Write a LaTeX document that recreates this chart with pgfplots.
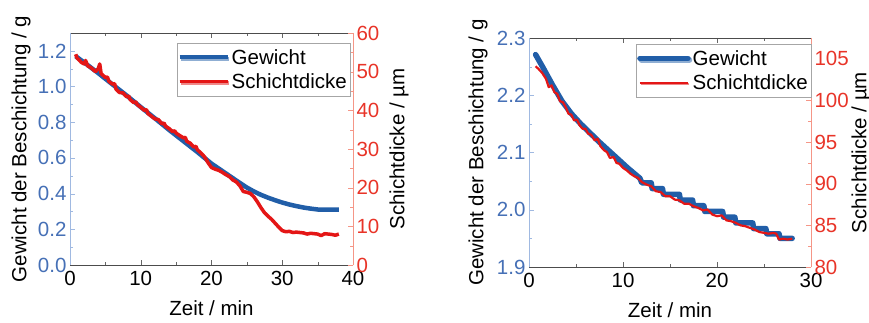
\documentclass[border=0pt]{standalone}
\usepackage{pgfplots}
\pgfplotsset{compat=1.18}
\usepackage{fontspec}
\setmainfont{Liberation Sans}
\usetikzlibrary{shadows}
\definecolor{wblue}{RGB}{33,94,168}
\definecolor{wbluetxt}{RGB}{70,112,182}
\definecolor{wblueax}{RGB}{160,185,225}
\definecolor{dred}{RGB}{228,22,22}
\definecolor{dredtxt}{RGB}{232,52,40}
\definecolor{dredax}{RGB}{245,150,135}
\pgfplotsset{
  base/.style={
    scale only axis, anchor=south west,
    font=\fontsize{20.5bp}{24bp}\selectfont,
    tick label style={font=\fontsize{20.5bp}{24bp}\selectfont},
    label style={font=\fontsize{20.5bp}{24bp}\selectfont},
    /pgf/number format/assume math mode=true,
    major tick length=5bp, minor tick length=3bp,
    minor x tick num=1, minor y tick num=1,
    tick align=inside,
    xticklabel style={anchor=base, yshift=-20bp},
    clip=false,
  },
  lgd/.style={
    legend style={at={(1,1)}, anchor=north east, draw=gray!70, fill=white,
      font=\fontsize{20.5bp}{24bp}\selectfont, inner xsep=1bp, inner ysep=4bp, row sep=4bp,
      nodes={inner sep=2bp},
      drop shadow={shadow xshift=1.5bp, shadow yshift=-1.5bp, fill=gray!50}},
    legend cell align=left,
    legend image code/.code={\draw[##1] (0bp,0bp) -- (48bp,0bp);},
  },
}
\begin{document}
\begin{tikzpicture}
\path[use as bounding box] (0bp,0bp) rectangle (869bp,323bp);
% ---------- left panel ----------
\begin{axis}[base, at={(70bp,58bp)}, width=283bp, height=232bp,
  xmin=0, xmax=40, ymin=0, ymax=1.3,
  xtick={0,10,20,30,40}, ytick={0,0.2,0.4,0.6,0.8,1.0,1.2},
  axis x line*=box, axis y line*=left,
  x axis line style={-, draw=black!70}, y axis line style={-, draw=wblueax},
  xtick style={draw=black!60}, ytick style={draw=wblueax},
  xticklabel pos=lower,
  yticklabel style={text=wbluetxt, /pgf/number format/.cd, fixed, fixed zerofill, precision=1},
  xlabel={Zeit / min}, ylabel={Gewicht der Beschichtung / g},
  xlabel style={at={([yshift=-50bp]axis description cs:0.5,0)}, anchor=base},
  ylabel style={at={([xshift=-49bp]axis description cs:0,0.5)}, anchor=center},
]
\addplot[wblue, line width=4.5bp] coordinates {
(0.8,1.170) (2,1.135) (4,1.075) (6,1.012) (8,0.950) (10,0.885) (12,0.822) (14,0.757) (16,0.695) (18,0.633) (20,0.568) (21,0.541) (22,0.514) (23,0.487) (24,0.460) (25,0.434) (26,0.412) (27,0.393) (28,0.377) (29,0.363) (30,0.350) (31,0.339) (32,0.330) (33,0.322) (34,0.316) (35,0.311) (36,0.310) (37,0.310) (38,0.310)};
\end{axis}
\begin{axis}[base, lgd, at={(70bp,58bp)}, width=283bp, height=232bp,
  xmin=0, xmax=40, ymin=0, ymax=60,
  ytick={0,10,20,30,40,50,60},
  axis x line=none, axis y line*=right,
  y axis line style={-, draw=dredax}, ytick style={draw=dredax},
  yticklabel style={text=dredtxt},
  ylabel={Schichtdicke / µm},
  ylabel style={at={([xshift=46bp]axis description cs:1,0.5)}, anchor=center},
  legend style={xshift=-3bp, yshift=-10bp},
]
\addlegendimage{wblue, line width=4bp}
\addlegendentry{Gewicht}
\addplot[dred, line width=3.5bp, line join=round] coordinates {
(0.8,54.5) (1.0,53.5) (1.3,53.0) (1.6,52.4) (2.0,52.0) (2.2,52.9) (2.5,51.5) (3.0,51.0) (3.3,50.5) (3.6,50.0) (4.0,50.8) (4.2,52.0) (4.4,49.5) (5.0,48.5) (5.3,48.6) (5.5,47.5) (6.0,46.8) (6.3,46.9) (6.5,45.5) (7.0,44.6) (7.5,44.5) (8.0,43.5) (8.3,43.7) (8.5,42.8) (9.0,42.0) (9.3,42.2) (9.5,41.5) (10.0,40.8) (10.5,40.0) (10.8,40.2) (11,39.2) (11.5,38.5) (12,37.8) (12.5,37.6) (13,36.5) (13.3,36.7) (13.5,35.9) (14,35.3) (14.5,34.5) (14.8,34.7) (15,34.1) (15.5,33.5) (16,32.9) (16.3,33.0) (16.5,32.0) (17,31.5) (17.5,30.5) (17.8,30.7) (18,29.8) (18.5,29.0) (19,28.0) (19.5,26.5) (20,25.2) (20.5,24.8) (21,24.5) (21.5,24.0) (22,23.4) (22.5,22.9) (23,22.0) (23.5,21.5) (24,20.5) (24.5,19.0) (25,18.8) (25.5,18.5) (26,17.6) (26.5,16.3) (27,14.8) (27.5,13.5) (28,12.6) (28.5,11.8) (29,10.8) (29.5,9.8) (30,8.9) (30.5,8.6) (31,8.7) (31.5,8.4) (32,8.5) (33,8.3) (33.5,8.0) (34,8.2) (35,8.0) (35.5,7.6) (36,8.1) (37,7.9) (37.5,7.7) (38,8.0)};
\addlegendentry{Schichtdicke}
\end{axis}
% ---------- right panel ----------
\begin{axis}[base, at={(529bp,56bp)}, width=282bp, height=229bp,
  xmin=0, xmax=30, ymin=1.9, ymax=2.3,
  xtick={0,10,20,30}, ytick={1.9,2.0,2.1,2.2,2.3},
  axis x line*=box, axis y line*=left,
  x axis line style={-, draw=black!70}, y axis line style={-, draw=wblueax},
  xtick style={draw=black!60}, ytick style={draw=wblueax},
  xticklabel pos=lower,
  yticklabel style={text=wbluetxt, /pgf/number format/.cd, fixed, fixed zerofill, precision=1},
  xlabel={Zeit / min}, ylabel={Gewicht der Beschichtung / g},
  xlabel style={at={([yshift=-50bp]axis description cs:0.5,0)}, anchor=base},
  ylabel style={at={([xshift=-51bp]axis description cs:0,0.5)}, anchor=center},
]
\addplot[wblue, line width=5.5bp, line cap=round, line join=round] coordinates {
(0.7,2.271) (1.5,2.248) (2.5,2.218) (3.5,2.190) (4.5,2.168) (5.5,2.150) (6.5,2.134) (7.5,2.118) (8.5,2.103) (9.5,2.088) (10.5,2.073) (11.8,2.055)
(12.0,2.047) (13.0,2.047) (13.1,2.037) (14.2,2.037) (14.3,2.027) (16.0,2.027) (16.1,2.017) (17.4,2.017) (17.5,2.007) (18.6,2.007) (18.7,1.997) (20.6,1.997) (20.7,1.987) (21.9,1.987) (22.0,1.977) (23.8,1.977) (23.9,1.967) (25.2,1.967) (25.3,1.958) (26.6,1.958) (26.7,1.950) (28.0,1.950)};
\end{axis}
\begin{axis}[base, lgd, at={(529bp,56bp)}, width=282bp, height=229bp,
  xmin=0, xmax=30, ymin=80, ymax=107.5,
  ytick={80,85,90,95,100,105},
  axis x line=none, axis y line*=right,
  y axis line style={-, draw=dredax}, ytick style={draw=dredax},
  yticklabel style={text=dredtxt},
  ylabel={Schichtdicke / µm},
  ylabel style={at={([xshift=50bp]axis description cs:1,0.5)}, anchor=center},
  legend style={xshift=0bp, yshift=-6bp},
]
\addlegendimage{wblue, line width=5.5bp, line cap=round}
\addlegendentry{Gewicht}
\addplot[dred, line width=2.2bp, line join=round] coordinates {
(0.7,104.1) (1.0,103.8) (1.4,103.3) (1.8,102.6) (2.1,101.6) (2.4,101.8) (2.7,101.0) (3.0,100.8) (3.3,99.9) (3.6,99.8) (3.9,99.2) (4.2,98.4) (4.5,98.3) (4.8,97.6) (5.1,97.7) (5.4,97.0) (5.7,96.6) (6.0,96.6) (6.3,96.0) (6.6,95.9) (7.0,95.2) (7.3,95.4) (7.6,94.5) (8.0,94.0) (8.3,93.8) (8.6,93.1) (9.0,93.2) (9.3,92.5) (9.6,92.4) (10.0,91.9) (10.4,91.6) (10.8,91.2) (11.2,90.9) (11.6,90.7) (12.0,90.2) (12.5,89.9) (13.0,89.7) (13.5,89.1) (14.0,89.0) (14.5,88.5) (15.0,88.5) (15.5,88.1) (16.0,88.0) (16.5,87.6) (17.0,87.6) (17.5,87.3) (18.0,87.1) (18.5,86.8) (19.0,86.9) (19.5,86.3) (20.0,86.1) (20.5,86.2) (21.0,85.6) (21.5,85.5) (22.0,85.3) (22.5,85.0) (23.0,84.9) (23.5,84.7) (24.0,84.5) (24.5,84.2) (25.0,84.1) (25.5,84.0) (26.0,84.1) (26.3,84.0) (26.6,83.3) (27.0,83.4) (27.5,83.3) (28.0,83.4)};
\addlegendentry{Schichtdicke}
\end{axis}
\end{tikzpicture}
\end{document}
